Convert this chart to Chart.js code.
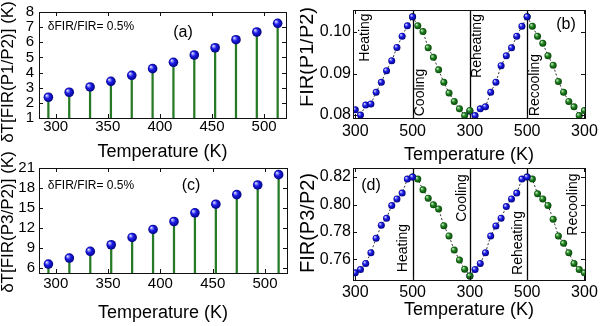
<!DOCTYPE html>
<html>
<head>
<meta charset="utf-8">
<script src="https://cdn.jsdelivr.net/npm/chart.js@4.4.1/dist/chart.umd.min.js"></script>
<style>
  body { margin: 0; background: #fff; }
  #wrap { position: relative; width: 600px; height: 326px; overflow: hidden; }
  canvas { position: absolute; }
</style>
</head>
<body>
<div id="wrap">
  <canvas id="pa"></canvas>
  <canvas id="pb"></canvas>
  <canvas id="pc"></canvas>
  <canvas id="pd"></canvas>
</div>
<script>
// measured temperatures (K)
const temps = [293, 313, 333, 353, 373, 393, 413, 433, 453, 473, 493, 513];

// (a) / (c) temperature resolution
const dTP1P2 = [2.37, 2.70, 3.05, 3.42, 3.82, 4.26, 4.68, 5.16, 5.64, 6.17, 6.68, 7.25];
const dTP3P2 = [6.55, 7.45, 8.45, 9.45, 10.55, 11.75, 12.95, 14.25, 15.55, 17.0, 18.45, 20.0];

// (b) FIR(P1/P2) over the cycles
const heatP1P2   = [0.0813, 0.0800, 0.0824, 0.0827, 0.0855, 0.0879, 0.0907, 0.0931, 0.0963, 0.0990, 0.1015, 0.1037];
const coolP1P2   = [0.1037, 0.1015, 0.1001, 0.0962, 0.0939, 0.0909, 0.0879, 0.0853, 0.0833, 0.0815, 0.0799, 0.0811];
const reheatP1P2 = [0.0809, 0.0799, 0.0815, 0.0820, 0.0855, 0.0879, 0.0919, 0.0943, 0.0962, 0.0990, 0.1014, 0.1037];
const recoolP1P2 = [0.1037, 0.1014, 0.0990, 0.0973, 0.0943, 0.0920, 0.0881, 0.0855, 0.0833, 0.0820, 0.0799, 0.0811];

// (d) FIR(P3/P2) over the cycles
const heatP3P2   = [0.7502, 0.7527, 0.7571, 0.7649, 0.7754, 0.7849, 0.7900, 0.7993, 0.8041, 0.8083, 0.8185, 0.8200];
const coolP3P2   = [0.8200, 0.8185, 0.8107, 0.8046, 0.7998, 0.7968, 0.7846, 0.7771, 0.7668, 0.7595, 0.7529, 0.7480];
const reheatP3P2 = [0.7480, 0.7527, 0.7571, 0.7649, 0.7771, 0.7844, 0.7900, 0.7985, 0.8041, 0.8083, 0.8185, 0.8200];
const recoolP3P2 = [0.8200, 0.8185, 0.8078, 0.8041, 0.7993, 0.7893, 0.7771, 0.7717, 0.7649, 0.7571, 0.7527, 0.7502];

// ticks
const tempTicks  = [300, 350, 400, 450, 500];
const yTicksA    = [1, 2, 3, 4, 5, 6, 7, 8];
const yTicksC    = [6, 9, 12, 15, 18, 21];
const yTicksB    = [0.08, 0.09, 0.10];
const yTicksD    = [0.76, 0.78, 0.80, 0.82];
const cycleTicks = [0, 1, 2, 3, 4];
const cycleTickLabels = [300, 500, 300, 500, 300];
const cycleDividers = [1, 2, 3];

const FONT = "'Liberation Sans', Arial, sans-serif";
Chart.defaults.font.family = FONT;
Chart.defaults.color = '#000';

const BLUE = ['#dcdcff', '#1c1ce8', '#00007a'];
const GREEN = ['#cdeccd', '#1f831f', '#063f06'];

const sphere = (cols, r) => c => {
  if (c.type !== 'data' || !c.raw) return cols[1];
  const ch = c.chart;
  if (!ch.scales.x || !ch.scales.y) return cols[1];
  const x = ch.scales.x.getPixelForValue(c.raw.x), y = ch.scales.y.getPixelForValue(c.raw.y);
  if (!isFinite(x) || !isFinite(y)) return cols[1];
  const g = ch.ctx.createRadialGradient(x - r * 0.4, y - r * 0.4, r * 0.05, x, y, r * 1.05);
  g.addColorStop(0, cols[0]); g.addColorStop(0.45, cols[1]); g.addColorStop(1, cols[2]);
  return g;
};

// position of a temperature inside one heating/cooling segment
const segPos = T => (T - temps[0]) / (temps[temps.length - 1] - temps[0]);
const cycleData = (vals, seg, rising) => vals.map((v, i) => {
  const T = rising ? temps[i] : temps[temps.length - 1 - i];
  return {x: seg + (rising ? segPos(T) : 1 - segPos(T)), y: v};
});

const deco = {
  id: 'deco',
  beforeDatasetsDraw(chart, args, o) {
    const {ctx, chartArea: a, scales: {x}} = chart;
    ctx.save();
    ctx.strokeStyle = '#000'; ctx.lineWidth = 1.3;
    (o.dividers || []).forEach(v => {
      const px = Math.round(x.getPixelForValue(v)) + 0.5;
      ctx.beginPath(); ctx.moveTo(px, a.top); ctx.lineTo(px, a.bottom); ctx.stroke();
    });
    ctx.restore();
  },
  afterDraw(chart, args, o) {
    const {ctx, chartArea: a, scales: {x, y}} = chart;
    ctx.save();
    ctx.strokeStyle = '#111'; ctx.lineWidth = 1;
    ctx.strokeRect(Math.round(a.left) + 0.5, Math.round(a.top) + 0.5, Math.round(a.right - a.left), Math.round(a.bottom - a.top));
    ctx.beginPath();
    x.ticks.forEach(t => {
      const px = Math.round(x.getPixelForValue(t.value)) + 0.5;
      ctx.moveTo(px, a.bottom); ctx.lineTo(px, a.bottom - 4);
      ctx.moveTo(px, a.top); ctx.lineTo(px, a.top + 4);
    });
    y.ticks.forEach(t => {
      const py = Math.round(y.getPixelForValue(t.value)) + 0.5;
      ctx.moveTo(a.left, py); ctx.lineTo(a.left + 4, py);
      ctx.moveTo(a.right, py); ctx.lineTo(a.right - 4, py);
    });
    ctx.stroke();
    const ox = chart.canvas.offsetLeft, oy = chart.canvas.offsetTop;
    ctx.fillStyle = '#000'; ctx.textAlign = 'center'; ctx.textBaseline = 'middle';
    (o.texts || []).forEach(t => {
      ctx.save();
      ctx.font = t.size + 'px ' + FONT;
      ctx.translate(t.x - ox, t.y - oy);
      if (t.rot) ctx.rotate(-Math.PI / 2);
      ctx.fillText(t.text, 0, 0);
      ctx.restore();
    });
    ctx.restore();
  }
};

function panel(id, box, xs, ys, datasets, decoOpts) {
  const cv = document.getElementById(id);
  cv.width = box.w; cv.height = box.h;
  cv.style.left = box.left + 'px'; cv.style.top = box.top + 'px';
  cv.style.width = box.w + 'px'; cv.style.height = box.h + 'px';
  return new Chart(cv, {
    type: 'scatter',
    data: {datasets},
    plugins: [deco],
    options: {
      responsive: false, animation: false, events: [], devicePixelRatio: 1,
      layout: {padding: {top: box.pt, right: box.pr, left: 0, bottom: 0}},
      plugins: {legend: {display: false}, tooltip: {enabled: false}, deco: decoOpts},
      scales: {
        x: {
          type: 'linear', min: xs.min, max: xs.max, offset: false,
          grid: {display: false, drawTicks: false}, border: {display: false},
          ticks: {font: {size: xs.size}, padding: xs.pad, maxRotation: 0, autoSkip: false,
                  callback: xs.fmt || (v => v)},
          afterBuildTicks: s => { s.ticks = xs.ticks.map(v => ({value: v})); },
          afterFit: s => { s.height = box.xh; s.paddingLeft = 0; s.paddingRight = 0; },
          title: {display: true, text: 'Temperature (K)', font: {size: 18}, padding: 0}
        },
        y: {
          min: ys.min, max: ys.max,
          grid: {display: false, drawTicks: false}, border: {display: false},
          ticks: {font: {size: ys.size}, padding: ys.pad, autoSkip: false,
                  callback: ys.fmt || (v => v)},
          afterBuildTicks: s => { s.ticks = ys.ticks.map(v => ({value: v})); },
          afterFit: s => { s.width = box.yw; s.paddingTop = 0; s.paddingBottom = 0; }
        }
      }
    }
  });
}

function stemSets(vals, yMin) {
  const pts = temps.map((T, i) => ({x: T, y: vals[i]}));
  return [
    {type: 'scatter', data: pts, order: 0, pointRadius: 4.8, pointBorderWidth: 0,
     pointBackgroundColor: sphere(BLUE, 4.8)},
    {type: 'bar', data: pts, order: 1, base: yMin, barThickness: 1.6, grouped: false,
     backgroundColor: '#267a26', borderWidth: 0}
  ];
}

function cycleSets(heat, cool, reheat, recool) {
  const mk = (vals, seg, rising, cols) => ({
    type: 'line', data: cycleData(vals, seg, rising), showLine: true,
    borderColor: '#333', borderWidth: 1, borderDash: [2, 2],
    pointRadius: 3.5, pointBorderWidth: 0, pointBackgroundColor: sphere(cols, 3.5)
  });
  return [mk(heat, 0, true, BLUE), mk(cool, 1, false, GREEN),
          mk(reheat, 2, true, BLUE), mk(recool, 3, false, GREEN)];
}

const fmt2 = v => v.toFixed(2);
const cycleFmt = (v, i) => cycleTickLabels[i];

// (a)
panel('pa', {left: 0, top: 0, w: 300, h: 163, pt: 12, pr: 14, yw: 39, xh: 45},
  {min: 284, max: 521, ticks: tempTicks, size: 15, pad: 0},
  {min: 1, max: 8, ticks: yTicksA, size: 15, pad: 5},
  stemSets(dTP1P2, 1),
  {texts: [
    {text: 'δT[FIR(P1/P2)] (K)', x: 8, y: 72, size: 17, rot: true},
    {text: 'δFIR/FIR= 0.5%', x: 91, y: 27, size: 12},
    {text: '(a)', x: 183, y: 33, size: 16}
  ]});

// (b)
panel('pb', {left: 300, top: 0, w: 300, h: 166, pt: 10, pr: 15, yw: 53, xh: 48},
  {min: -0.04, max: 4.01, ticks: cycleTicks, size: 16, pad: 4, fmt: cycleFmt},
  {min: 0.0793, max: 0.1053, ticks: yTicksB, size: 16, pad: 2, fmt: fmt2},
  cycleSets(heatP1P2, coolP1P2, reheatP1P2, recoolP1P2),
  {dividers: cycleDividers, texts: [
    {text: 'FIR(P1/P2)', x: 307, y: 57, size: 20, rot: true},
    {text: 'Heating', x: 365, y: 37.5, size: 14, rot: true},
    {text: 'Cooling', x: 420, y: 92.5, size: 14, rot: true},
    {text: 'Reheating', x: 477, y: 46, size: 14, rot: true},
    {text: 'Recooling', x: 535, y: 85, size: 14, rot: true},
    {text: '(b)', x: 566, y: 25, size: 16}
  ]});

// (c)
panel('pc', {left: 0, top: 150, w: 300, h: 174, pt: 18, pr: 13, yw: 39, xh: 51},
  {min: 284, max: 521, ticks: tempTicks, size: 15, pad: 2},
  {min: 5.2, max: 21, ticks: yTicksC, size: 15, pad: 4},
  stemSets(dTP3P2, 5.2),
  {texts: [
    {text: 'δT[FIR(P3/P2)] (K)', x: 8, y: 222, size: 17, rot: true},
    {text: 'δFIR/FIR= 0.5%', x: 91, y: 186, size: 12},
    {text: '(c)', x: 191, y: 186, size: 16}
  ]});

// (d)
panel('pd', {left: 300, top: 163, w: 300, h: 158, pt: 5, pr: 15, yw: 53, xh: 41},
  {min: -0.04, max: 4.01, ticks: cycleTicks, size: 16, pad: 3, fmt: cycleFmt},
  {min: 0.745, max: 0.8266, ticks: yTicksD, size: 16, pad: 2, fmt: fmt2},
  cycleSets(heatP3P2, coolP3P2, reheatP3P2, recoolP3P2),
  {dividers: cycleDividers, texts: [
    {text: 'FIR(P3/P2)', x: 308, y: 223, size: 20, rot: true},
    {text: 'Heating', x: 403, y: 248, size: 14, rot: true},
    {text: 'Cooling', x: 462, y: 198, size: 14, rot: true},
    {text: 'Reheating', x: 518, y: 243, size: 14, rot: true},
    {text: 'Recooling', x: 573, y: 204.5, size: 14, rot: true},
    {text: '(d)', x: 371, y: 186, size: 16}
  ]});
</script>
</body>
</html>
